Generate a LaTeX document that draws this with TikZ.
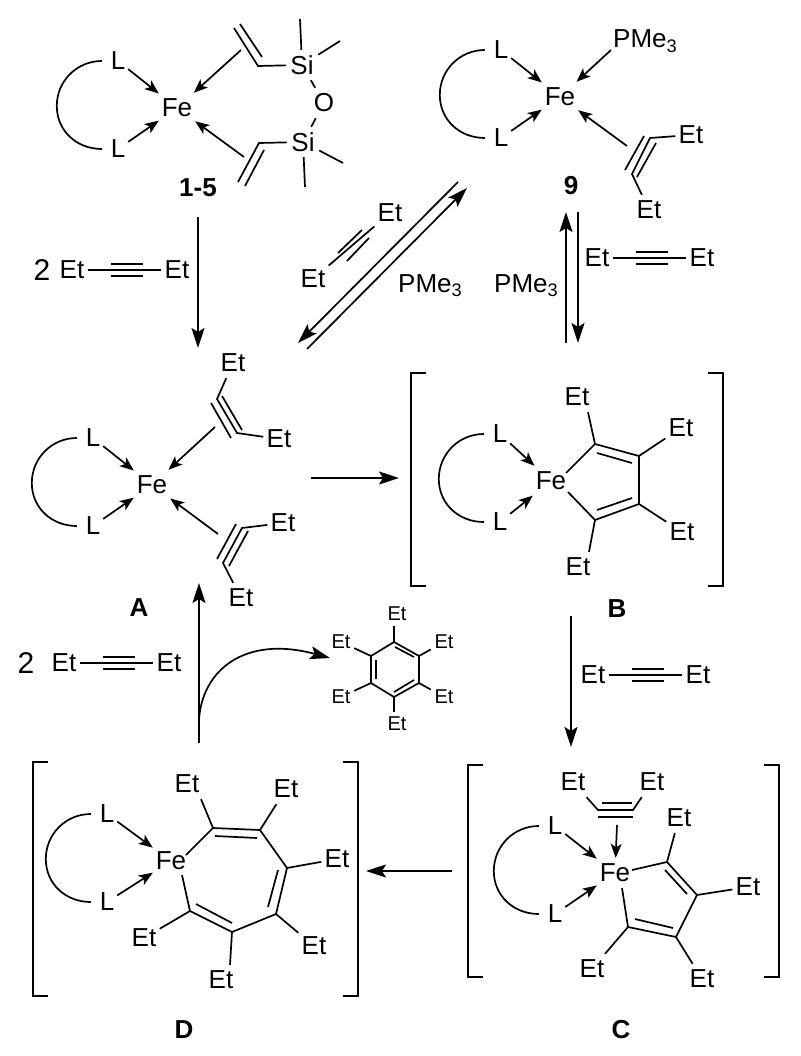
\documentclass[tikz,border=0pt]{standalone}
\usepackage{fontspec}
\setmainfont{Liberation Sans}
\usetikzlibrary{arrows.meta}

\tikzset{
  bond/.style={line width=1.7pt},
  dative/.style={bond,->,>={Stealth[length=14pt,width=11pt,inset=3.5pt]}},
  rxn/.style={bond,->,>={Stealth[length=20pt,width=13pt,inset=4pt]}},
  metal/.style={inner sep=0pt,minimum width=36pt,minimum height=30pt},
  ligand/.style={inner sep=0pt,minimum width=20pt,minimum height=24pt},
  atom/.style={inner sep=0pt,minimum width=32pt,minimum height=30pt},
  et/.style={inner sep=0pt,minimum width=31pt,minimum height=30pt},
  etsmall/.style={inner sep=0pt,minimum width=26pt,minimum height=24pt,font=\fontsize{20}{20}\selectfont},
  cmpd/.style={inner sep=0pt,font=\fontsize{26}{26}\selectfont\bfseries},
  coeff/.style={inner sep=0pt,font=\fontsize{30}{30}\selectfont},
}

% Fe with the chelating L--L arc
\newcommand{\chelate}[3]{%
  \node[metal] (#1-Fe) at (#2) {Fe};
  \node[ligand] (#1-Lt) at ([shift={(#3,-47)}]#1-Fe.center) {L};
  \node[ligand] (#1-Lb) at ([shift={(#3,41)}]#1-Fe.center) {L};
  \draw[dative] (#1-Lt) -- (#1-Fe);
  \draw[dative] (#1-Lb) -- (#1-Fe);
  \draw[bond] ([xshift=-6pt]#1-Lt.west) .. controls +(-25,0) and +(0,-25) .. ++(-45,45)
    .. controls +(0,25) and +(-25,0) .. ([xshift=-6pt]#1-Lb.west);
}
% Et--triple bond--Et reagent
\newcommand{\yne}[3]{%
  \node[et] (#1-l) at (#2,#3) {Et};
  \node[et] (#1-r) at ({#2+105},#3) {Et};
  \draw[bond] (#1-l) -- (#1-r);
  \draw[bond] ({#2+39},{#3-6}) -- ({#2+71},{#3-6});
  \draw[bond] ({#2+39},{#3+6}) -- ({#2+71},{#3+6});
}
% Square brackets: left x, right x, top y, bottom y
\newcommand{\brackets}[4]{%
  \draw[bond] ({#1+15},#3) -- (#1,#3) -- (#1,#4) -- ({#1+15},#4);
  \draw[bond] ({#2-15},#3) -- (#2,#3) -- (#2,#4) -- ({#2-15},#4);
}

\begin{document}
\begin{tikzpicture}[x=1pt,y=-1pt,font=\fontsize{26}{26}\selectfont]
\useasboundingbox (0,0) rectangle (800,1056);

% Complex 1-5
\chelate{pre}{177,108}{-59}
\node[atom] (pre-si1) at (302,65) {Si};
\node[atom] (pre-o) at (324,103) {O};
\node[atom] (pre-si2) at (303,142) {Si};
\coordinate (pre-v1) at (258,66);
\coordinate (pre-v2) at (259,143);
\coordinate (pre-me1) at (300,19);
\coordinate (pre-me2) at (340,41);
\coordinate (pre-me3) at (343,163);
\coordinate (pre-me4) at (305,187);
\coordinate (pre-t1) at (234,28);
\coordinate (pre-t2) at (238,182);
\coordinate (pre-pi1) at (241,50);
\coordinate (pre-pi2) at (244,157);
\draw[bond] (pre-t1) -- (pre-v1) -- (pre-si1);
\draw[bond] (pre-t2) -- (pre-v2) -- (pre-si2);
\draw[bond] (240,24) -- (262,57);
\draw[bond] (264,150) -- (245,186);
\draw[bond] (pre-si1) -- (pre-me1);
\draw[bond] (pre-si1) -- (pre-me2);
\draw[bond] (pre-si2) -- (pre-me3);
\draw[bond] (pre-si2) -- (pre-me4);
\draw[bond] (pre-si1) -- (pre-o);
\draw[bond] (pre-o) -- (pre-si2);
\draw[dative] (pre-pi1) -- (pre-Fe);
\draw[dative] (pre-pi2) -- (pre-Fe);
\node[cmpd] (lab-pre) at (198,188) {1-5};

% Complex 9
\chelate{nine}{560,97}{-59}
\node[anchor=base west,inner sep=0pt] (nine-p) at (613,48) {PMe\textsubscript{3}};
\coordinate (nine-pt) at (611,50);
\draw[dative] (nine-pt) -- (nine-Fe);
\coordinate (nine-c1) at (650,138);
\coordinate (nine-c2) at (632,174);
\node[et] (nine-et1) at (691,135) {Et};
\node[et] (nine-et2) at (649,210) {Et};
\draw[bond] (nine-et1) -- (nine-c1) -- (nine-c2) -- (nine-et2);
\draw[bond] (644,136) -- (625,170);
\draw[bond] (656,143) -- (637,177);
\coordinate (nine-pi) at (627,146);
\draw[dative] (nine-pi) -- (nine-Fe);
\node[cmpd] (lab-nine) at (571,186) {9};

% Complex A
\chelate{A}{152,485}{-59}
\coordinate (A-c1) at (217,399);
\coordinate (A-c2) at (237,433);
\node[et] (A-et1) at (233,363) {Et};
\node[et] (A-et2) at (279,439) {Et};
\draw[bond] (A-et1) -- (A-c1) -- (A-c2) -- (A-et2);
\draw[bond] (211,403) -- (231,438);
\draw[bond] (222,396) -- (242,430);
\coordinate (A-pi1) at (215,427);
\draw[dative] (A-pi1) -- (A-Fe);
\coordinate (A-c3) at (242,528);
\coordinate (A-c4) at (223,563);
\node[et] (A-et3) at (283,523) {Et};
\node[et] (A-et4) at (241,598) {Et};
\draw[bond] (A-et3) -- (A-c3) -- (A-c4) -- (A-et4);
\draw[bond] (236,524) -- (217,559);
\draw[bond] (248,531) -- (229,566);
\coordinate (A-pi2) at (218,534);
\draw[dative] (A-pi2) -- (A-Fe);
\node[cmpd] (lab-A) at (139,608) {A};

% Complex B
\brackets{411}{723}{373}{586}
\chelate{B}{551,481}{-51}
\coordinate (B-c1) at (595,444);
\coordinate (B-c2) at (639,456);
\coordinate (B-c3) at (639,504);
\coordinate (B-c4) at (595,520);
\draw[bond] ([shift={(15,-8)}]B-Fe.center) -- (B-c1) -- (B-c2) -- (B-c3) -- (B-c4) -- ([shift={(17,11)}]B-Fe.center);
\draw[bond] (597,453) -- (632,463);
\draw[bond] (597,510) -- (632,498);
\node[et] (B-et1) at (577,397) {Et};
\node[et] (B-et2) at (681,428) {Et};
\node[et] (B-et3) at (682,532) {Et};
\node[et] (B-et4) at (578,567) {Et};
\draw[bond] (B-c1) -- ([xshift=11pt]B-et1.south);
\draw[bond] (B-c2) -- (B-et2);
\draw[bond] (B-c3) -- (B-et3);
\draw[bond] (B-c4) -- ([xshift=11pt]B-et4.north);
\node[cmpd] (lab-B) at (617,609) {B};

% Complex C
\brackets{468}{779}{765}{977}
\chelate{C}{615,873}{-60}
\coordinate (C-c1) at (667,862);
\coordinate (C-c2) at (697,895);
\coordinate (C-c3) at (676,937);
\coordinate (C-c4) at (628,927);
\draw[bond] ([shift={(17,-3)}]C-Fe.center) -- (C-c1) -- (C-c2) -- (C-c3) -- (C-c4) -- ([shift={(7,15)}]C-Fe.center);
\draw[bond] (665,870) -- (687,894);
\draw[bond] (635,919) -- (673,928);
\node[et] (C-et1) at (679,818) {Et};
\node[et] (C-et2) at (748,887) {Et};
\node[et] (C-et3) at (702,979) {Et};
\node[et] (C-et4) at (592,969) {Et};
\draw[bond] (C-c1) -- (C-et1);
\draw[bond] (C-c2) -- (C-et2);
\draw[bond] (C-c3) -- (C-et3);
\draw[bond] (C-c4) -- (C-et4);
\node[et] (C-et5) at (573,782) {Et};
\node[et] (C-et6) at (652,782) {Et};
\coordinate (C-y1) at (598,810);
\coordinate (C-y2) at (633,810);
\draw[bond] (C-et5) -- (C-y1) -- (C-y2) -- (C-et6);
\draw[bond] (602,803) -- (632,803);
\draw[bond] (598,817) -- (633,817);
\coordinate (C-pi) at (617,825);
\draw[dative] (C-pi) -- (C-Fe);
\node[cmpd] (lab-C) at (621,1030) {C};

% Complex D
\brackets{33}{358}{762}{996}
\chelate{D}{171,861}{-64}
\coordinate (D-c1) at (213,828);
\coordinate (D-c2) at (260,830);
\coordinate (D-c3) at (287,868);
\coordinate (D-c4) at (276,914);
\coordinate (D-c5) at (232,932);
\coordinate (D-c6) at (190,911);
\draw[bond] ([shift={(15,-6)}]D-Fe.center) -- (D-c1) -- (D-c2) -- (D-c3) -- (D-c4) -- (D-c5) -- (D-c6) -- ([shift={(11,14)}]D-Fe.center);
\draw[bond] (215,836) -- (257,838);
\draw[bond] (278,870) -- (268,907);
\draw[bond] (232,923) -- (196,904);
\node[et] (D-et1) at (187,784) {Et};
\node[et] (D-et2) at (286,789) {Et};
\node[et] (D-et3) at (337,859) {Et};
\node[et] (D-et4) at (314,946) {Et};
\node[et] (D-et5) at (221,980) {Et};
\node[et] (D-et6) at (144,938) {Et};
\draw[bond] (D-c1) -- ([xshift=14pt]D-et1.south);
\draw[bond] (D-c2) -- (D-et2);
\draw[bond] (D-c3) -- (D-et3);
\draw[bond] (D-c4) -- (D-et4);
\draw[bond] (D-c5) -- ([xshift=9pt]D-et5.north);
\draw[bond] (D-c6) -- (D-et6);
\node[cmpd] (lab-D) at (184,1030) {D};

% Hexaethylbenzene
\coordinate (bz-c1) at (394,642);
\coordinate (bz-c2) at (419,656);
\coordinate (bz-c3) at (419,683);
\coordinate (bz-c4) at (394,697);
\coordinate (bz-c5) at (371,683);
\coordinate (bz-c6) at (371,656);
\draw[bond] (bz-c1) -- (bz-c2) -- (bz-c3) -- (bz-c4) -- (bz-c5) -- (bz-c6) -- cycle;
\draw[bond] (376,660) -- (376,679);
\draw[bond] (395,647) -- (414,657);
\draw[bond] (394,692) -- (414,680);
\node[etsmall] (bz-et1) at (397,614) {Et};
\node[etsmall] (bz-et2) at (444,642) {Et};
\node[etsmall] (bz-et3) at (444,697) {Et};
\node[etsmall] (bz-et4) at (397,724) {Et};
\node[etsmall] (bz-et5) at (341,697) {Et};
\node[etsmall] (bz-et6) at (341,642) {Et};
\draw[bond] (bz-c1) -- ([xshift=-3pt]bz-et1.south);
\draw[bond] (bz-c2) -- (bz-et2);
\draw[bond] (bz-c3) -- (bz-et3);
\draw[bond] (bz-c4) -- ([xshift=-3pt]bz-et4.north);
\draw[bond] (bz-c5) -- (bz-et5);
\draw[bond] (bz-c6) -- (bz-et6);

% Reagents
\node[coeff] (two-a) at (42,270) {2};
\yne{ra}{72}{270}
\node[coeff] (two-b) at (26,663) {2};
\yne{rb}{64}{663}
\yne{rc}{597}{258}
\yne{rd}{593}{675}
\node[et] (re-et1) at (390,213) {Et};
\node[et] (re-et2) at (313,279) {Et};
\draw[bond] (re-et2) -- (re-et1);
\draw[bond] (338,253) -- (362,230);
\draw[bond] (347,261) -- (369,238);
\node[anchor=base west,inner sep=0pt] (pm-a) at (398,292) {PMe\textsubscript{3}};
\node[anchor=base west,inner sep=0pt] (pm-b) at (494,292) {PMe\textsubscript{3}};

% Reaction arrows
\coordinate (ar1s) at (198,217);
\coordinate (ar1e) at (198,348);
\draw[rxn] (ar1s) -- (ar1e);
\coordinate (ar2s) at (458,182);
\coordinate (ar2e) at (298,343);
\draw[rxn] (ar2s) -- (ar2e);
\coordinate (ar3s) at (307,349);
\coordinate (ar3e) at (467,188);
\draw[rxn] (ar3s) -- (ar3e);
\coordinate (ar4s) at (566,343);
\coordinate (ar4e) at (566,212);
\draw[rxn] (ar4s) -- (ar4e);
\coordinate (ar5s) at (578,212);
\coordinate (ar5e) at (578,343);
\draw[rxn] (ar5s) -- (ar5e);
\coordinate (ar6s) at (311,478);
\coordinate (ar6e) at (399,478);
\draw[rxn] (ar6s) -- (ar6e);
\coordinate (ar7s) at (571,616);
\coordinate (ar7e) at (571,747);
\draw[rxn] (ar7s) -- (ar7e);
\coordinate (ar8s) at (452,871);
\coordinate (ar8e) at (366,871);
\draw[rxn] (ar8s) -- (ar8e);
\coordinate (ar9s) at (199,743);
\coordinate (ar9e) at (199,583);
\draw[rxn] (ar9s) -- (ar9e);
\coordinate (ar10s) at (199,720);
\coordinate (ar10e) at (330,658);
\draw[rxn] (ar10s) .. controls (202,670) and (245,635) .. (ar10e);
\end{tikzpicture}
\end{document}
